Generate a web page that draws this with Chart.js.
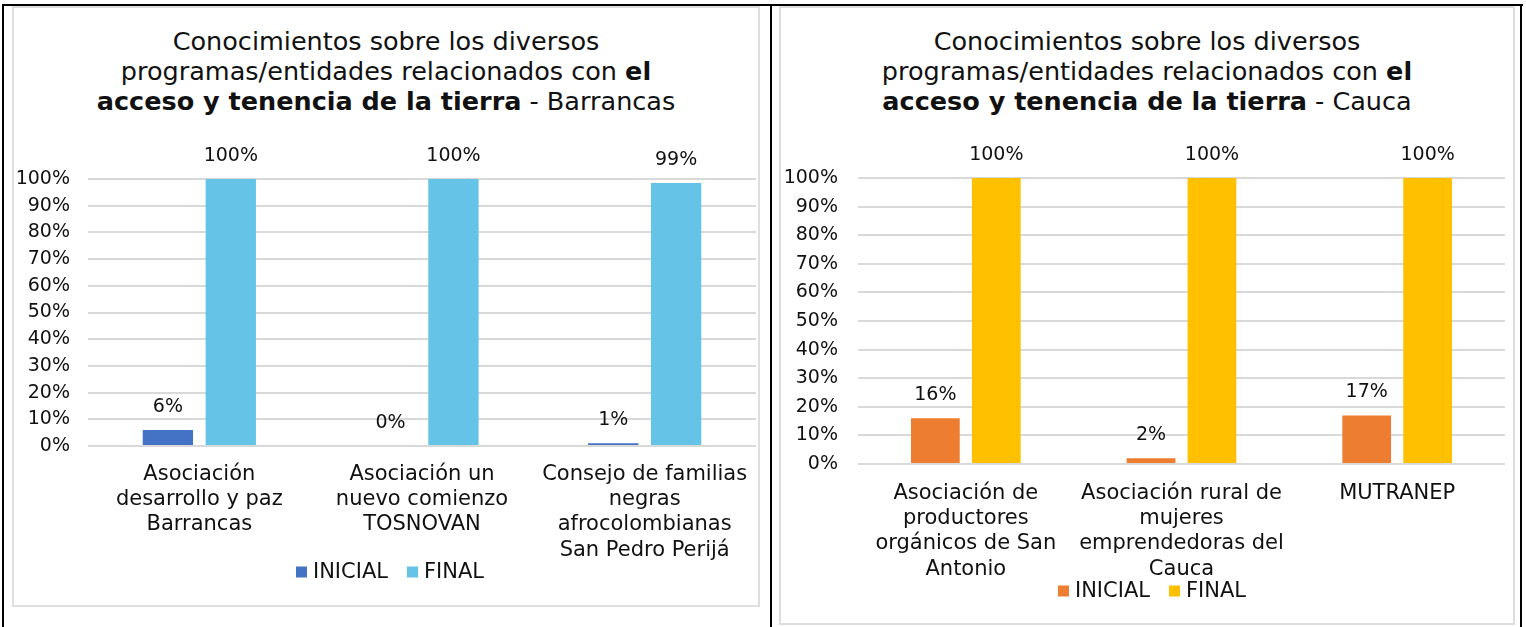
<!DOCTYPE html>
<html>
<head>
<meta charset="utf-8">
<script src="https://cdn.jsdelivr.net/npm/chart.js@4.4.1/dist/chart.umd.min.js"></script>
<style>
  html, body { margin: 0; padding: 0; background: #fff; }
  body { width: 1526px; height: 627px; position: relative; overflow: hidden; font-family: "DejaVu Sans", sans-serif; }
  .line { position: absolute; background: #000; }
  .box { position: absolute; border: 2px solid #dedede; box-sizing: border-box; }
  .title { position: absolute; text-align: center; font-size: 25.5px; line-height: 30px; color: #111; }
  .title b { font-weight: 700; }
  .wrap { position: absolute; }
</style>
</head>
<body>
<div class="line" style="left:2px; top:4px; width:1521px; height:2px;"></div>
<div class="line" style="left:2px; top:4px; width:2px; height:623px;"></div>
<div class="line" style="left:770px; top:4px; width:2px; height:623px;"></div>
<div class="line" style="left:1520px; top:4px; width:2px; height:623px;"></div>

<div class="box" style="left:12px; top:6px; width:748px; height:601px;"></div>
<div class="box" style="left:779px; top:6px; width:736px; height:619px;"></div>

<div class="title" style="left:13px; top:26px; width:746px;">
  Conocimientos sobre los diversos<br>programas/entidades relacionados con <b>el</b><br><b>acceso y tenencia de la tierra</b> - Barrancas
</div>
<div class="title" style="left:780px; top:26px; width:734px;">
  Conocimientos sobre los diversos<br>programas/entidades relacionados con <b>el</b><br><b>acceso y tenencia de la tierra</b> - Cauca
</div>

<div class="wrap" style="left:13px; top:6px; width:746px; height:600px;"><canvas id="chartBarrancas"></canvas></div>
<div class="wrap" style="left:780px; top:6px; width:734px; height:618px;"><canvas id="chartCauca"></canvas></div>

<script>
// datos Barrancas
const catBarrancas = [
  ['Asociación', 'desarrollo y paz', 'Barrancas'],
  ['Asociación un', 'nuevo comienzo', 'TOSNOVAN'],
  ['Consejo de familias', 'negras', 'afrocolombianas', 'San Pedro Perijá']
];
const inicialBarrancas = [6, 0, 1];
const finalBarrancas = [100, 100, 98.5];

// datos Cauca
const catCauca = [
  ['Asociación de', 'productores', 'orgánicos de San', 'Antonio'],
  ['Asociación rural de', 'mujeres', 'emprendedoras del', 'Cauca'],
  ['MUTRANEP']
];
const inicialCauca = [16, 2, 17];
const finalCauca = [100, 100, 100];

const yTicks = [0, 10, 20, 30, 40, 50, 60, 70, 80, 90, 100];
const FONT = '"DejaVu Sans", sans-serif';
const TXT = '#111';

// etiquetas de valor encima de cada barra
const valueLabels = {
  id: 'valueLabels',
  afterDatasetsDraw(chart) {
    const ctx = chart.ctx;
    ctx.save();
    ctx.font = '19px ' + FONT;
    ctx.fillStyle = TXT;
    ctx.textAlign = 'center';
    ctx.textBaseline = 'middle';
    chart.data.datasets.forEach((ds, i) => {
      chart.getDatasetMeta(i).data.forEach((bar, j) => {
        ctx.fillText(Math.round(ds.data[j]) + '%', bar.x, bar.y - 23);
      });
    });
    ctx.restore();
  }
};

// leyenda dibujada a mano (se solapa con las etiquetas del eje como en el original)
const bottomLegend = {
  id: 'bottomLegend',
  afterDraw(chart, args, o) {
    const ctx = chart.ctx;
    ctx.save();
    ctx.font = '21px ' + FONT;
    ctx.textBaseline = 'middle';
    ctx.textAlign = 'left';
    const box = 11, gap = 6, space = 19;
    const items = chart.data.datasets.map(ds => ({ text: ds.label, color: ds.backgroundColor, w: ctx.measureText(ds.label).width }));
    const total = items.reduce((s, it) => s + box + gap + it.w, 0) + space * (items.length - 1);
    let x = o.cx - total / 2;
    items.forEach(it => {
      ctx.fillStyle = it.color;
      ctx.fillRect(x, o.cy - box / 2, box, box);
      x += box + gap;
      ctx.fillStyle = TXT;
      ctx.fillText(it.text, x, o.cy + 1);
      x += it.w + space;
    });
    ctx.restore();
  }
};

function buildChart(id, labels, inicial, final, colors, opts) {
  const ctx = document.getElementById(id).getContext('2d');
  return new Chart(ctx, {
    type: 'bar',
    data: {
      labels: labels,
      datasets: [
        { label: 'INICIAL', data: inicial, backgroundColor: colors[0] },
        { label: 'FINAL', data: final, backgroundColor: colors[1] }
      ]
    },
    options: {
      responsive: true,
      maintainAspectRatio: false,
      animation: false,
      categoryPercentage: 0.565,
      barPercentage: 0.8,
      layout: { padding: { top: opts.top, right: opts.right, bottom: 0, left: 0 } },
      plugins: {
        legend: { display: false },
        tooltip: { enabled: false },
        bottomLegend: { cx: opts.legX, cy: opts.legY }
      },
      scales: {
        x: {
          grid: { display: false },
          border: { display: false },
          ticks: { font: { family: FONT, size: 21, lineHeight: 1.2 }, color: TXT, maxRotation: 0, autoSkip: false, padding: opts.xPad },
          afterFit: s => { s.height = opts.xHeight; }
        },
        y: {
          min: 0, max: 100,
          afterBuildTicks: s => { s.ticks = yTicks.map(v => ({ value: v })); },
          grid: { color: '#d9d9d9', lineWidth: 2, drawTicks: false },
          border: { display: false },
          ticks: { font: { family: FONT, size: 19 }, color: TXT, padding: opts.yPad, autoSkip: false, callback: v => v + '%' },
          afterFit: s => { s.width = opts.yWidth; }
        }
      }
    },
    plugins: [valueLabels, bottomLegend]
  });
}

buildChart('chartBarrancas', catBarrancas, inicialBarrancas, finalBarrancas, ['#4472c4', '#64c3e7'],
  { top: 173, right: 3, xHeight: 160, xPad: 8, yWidth: 75, yPad: 18, legX: 377, legY: 566 });
buildChart('chartCauca', catCauca, inicialCauca, finalCauca, ['#ed7d31', '#ffc000'],
  { top: 172, right: 9, xHeight: 160, xPad: 9, yWidth: 78, yPad: 20, legX: 372, legY: 585 });
</script>
</body>
</html>
